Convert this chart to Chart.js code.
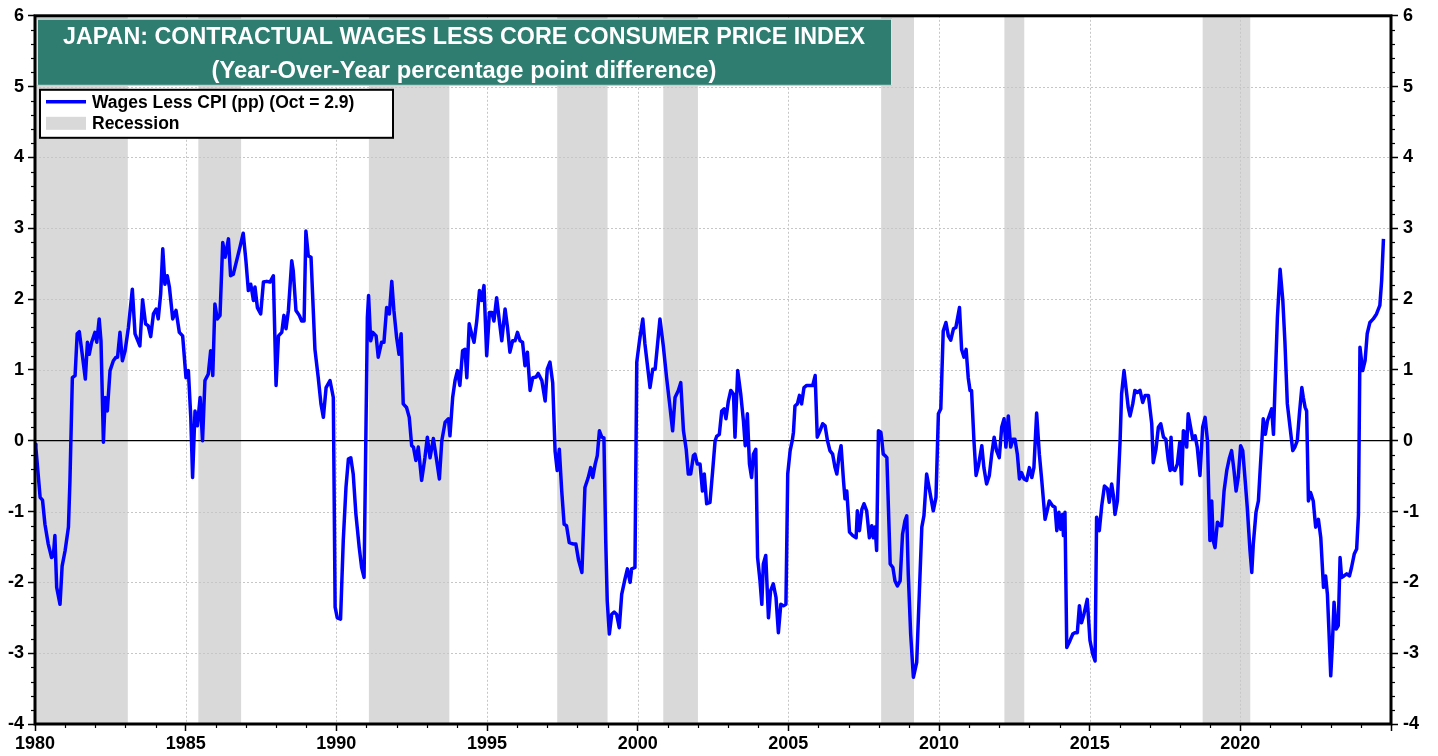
<!DOCTYPE html>
<html>
<head>
<meta charset="utf-8">
<script src="https://cdn.jsdelivr.net/npm/chart.js@4.4.0/dist/chart.umd.min.js"></script>
<style>
  html, body { margin: 0; padding: 0; background: #fff; }
  #wrap { width: 1438px; height: 756px; }
</style>
</head>
<body>
<div id="wrap"><canvas id="wagesChart" width="1438" height="756"></canvas></div>
<script>
// decimal years (month positions)
const dates = [
  1980.00, 1980.03, 1980.17, 1980.25, 1980.33, 1980.44, 1980.55, 1980.61, 1980.66, 1980.72, 1980.83, 1980.90,
  1981.00, 1981.11, 1981.16, 1981.24, 1981.33, 1981.40, 1981.47, 1981.58, 1981.67, 1981.74, 1981.80, 1981.88, 1981.99,
  1982.05, 1982.13, 1982.19, 1982.27, 1982.33, 1982.40, 1982.49, 1982.60, 1982.69, 1982.74, 1982.82, 1982.90, 1982.99,
  1983.10, 1983.23, 1983.32, 1983.48, 1983.57, 1983.67, 1983.76, 1983.84, 1983.93,
  1984.02, 1984.09, 1984.17, 1984.24, 1984.31, 1984.39, 1984.46, 1984.57, 1984.68, 1984.79, 1984.90,
  1985.01, 1985.09, 1985.17, 1985.23, 1985.31, 1985.39, 1985.48, 1985.56, 1985.64, 1985.75, 1985.83, 1985.90, 1985.97,
  1986.05, 1986.14, 1986.23, 1986.31, 1986.42, 1986.49, 1986.58, 1986.69, 1986.80, 1986.91,
  1987.00, 1987.08, 1987.16, 1987.25, 1987.30, 1987.38, 1987.49, 1987.58, 1987.69, 1987.80, 1987.91,
  1988.00, 1988.08, 1988.19, 1988.26, 1988.33, 1988.41, 1988.52, 1988.57, 1988.66, 1988.77, 1988.85, 1988.93, 1988.99,
  1989.07, 1989.16, 1989.29, 1989.40, 1989.49, 1989.57, 1989.66, 1989.79, 1989.90, 1989.96,
  1990.03, 1990.14, 1990.23, 1990.32, 1990.40, 1990.48, 1990.56, 1990.65, 1990.76, 1990.84, 1990.92,
  1991.03, 1991.07, 1991.14, 1991.21, 1991.32, 1991.39, 1991.50, 1991.58, 1991.67, 1991.76, 1991.84, 1991.91,
  1992.00, 1992.08, 1992.15, 1992.22, 1992.33, 1992.42, 1992.50, 1992.56, 1992.64, 1992.72, 1992.83, 1992.94,
  1993.02, 1993.11, 1993.22, 1993.33, 1993.42, 1993.50, 1993.61, 1993.72, 1993.77, 1993.86, 1993.94,
  1994.02, 1994.10, 1994.19, 1994.27, 1994.33, 1994.41, 1994.49, 1994.57, 1994.66, 1994.75, 1994.82, 1994.90, 1994.99,
  1995.08, 1995.16, 1995.23, 1995.32, 1995.41, 1995.49, 1995.60, 1995.68, 1995.76, 1995.85, 1995.93,
  1996.01, 1996.10, 1996.18, 1996.26, 1996.34, 1996.43, 1996.52, 1996.63, 1996.70, 1996.82, 1996.93,
  1997.00, 1997.09, 1997.18, 1997.26, 1997.33, 1997.40, 1997.48, 1997.56, 1997.64, 1997.73, 1997.87, 1997.95,
  1998.04, 1998.15, 1998.25, 1998.36, 1998.44, 1998.51, 1998.59, 1998.66, 1998.73, 1998.81, 1998.88, 1998.94, 1998.99,
  1999.06, 1999.14, 1999.22, 1999.30, 1999.39, 1999.47, 1999.58, 1999.66, 1999.75, 1999.80, 1999.91, 1999.97,
  2000.06, 2000.17, 2000.24, 2000.32, 2000.41, 2000.50, 2000.58, 2000.65, 2000.74, 2000.85, 2000.96,
  2001.05, 2001.16, 2001.24, 2001.35, 2001.43, 2001.52, 2001.61, 2001.68, 2001.76, 2001.85, 2001.90, 2001.98,
  2002.07, 2002.15, 2002.21, 2002.29, 2002.40, 2002.49, 2002.57, 2002.62, 2002.71, 2002.79, 2002.87, 2002.93,
  2003.01, 2003.09, 2003.18, 2003.23, 2003.32, 2003.42, 2003.51, 2003.57, 2003.64, 2003.71, 2003.78, 2003.84, 2003.92, 2003.98,
  2004.06, 2004.12, 2004.17, 2004.25, 2004.34, 2004.41, 2004.50, 2004.59, 2004.67, 2004.75, 2004.84, 2004.92, 2004.98,
  2005.06, 2005.13, 2005.17, 2005.22, 2005.30, 2005.37, 2005.44, 2005.52, 2005.61, 2005.72, 2005.81, 2005.89, 2005.96,
  2006.05, 2006.14, 2006.22, 2006.30, 2006.38, 2006.47, 2006.55, 2006.61, 2006.69, 2006.75, 2006.83, 2006.88, 2006.94,
  2007.03, 2007.14, 2007.25, 2007.29, 2007.36, 2007.44, 2007.51, 2007.60, 2007.69, 2007.77, 2007.82, 2007.88, 2007.93, 2007.99,
  2008.07, 2008.10, 2008.15, 2008.21, 2008.27, 2008.38, 2008.47, 2008.54, 2008.62, 2008.71, 2008.79, 2008.87, 2008.93, 2008.98,
  2009.06, 2009.15, 2009.26, 2009.35, 2009.43, 2009.50, 2009.59, 2009.70, 2009.81, 2009.90, 2009.98,
  2010.06, 2010.14, 2010.23, 2010.31, 2010.39, 2010.48, 2010.56, 2010.68, 2010.75, 2010.83, 2010.90, 2010.97,
  2011.03, 2011.08, 2011.16, 2011.23, 2011.31, 2011.42, 2011.49, 2011.58, 2011.67, 2011.75, 2011.83, 2011.91,
  2012.00, 2012.08, 2012.16, 2012.22, 2012.30, 2012.38, 2012.45, 2012.52, 2012.60, 2012.67, 2012.74, 2012.82, 2012.91,
  2013.00, 2013.08, 2013.15, 2013.24, 2013.33, 2013.41, 2013.52, 2013.60, 2013.66, 2013.77, 2013.85, 2013.91, 2013.98,
  2014.04, 2014.10, 2014.13, 2014.18, 2014.24, 2014.35, 2014.44, 2014.51, 2014.59, 2014.66, 2014.73, 2014.81, 2014.92,
  2015.01, 2015.10, 2015.18, 2015.23, 2015.32, 2015.40, 2015.49, 2015.59, 2015.65, 2015.73, 2015.79, 2015.84, 2015.92,
  2016.01, 2016.06, 2016.14, 2016.23, 2016.28, 2016.34, 2016.43, 2016.50, 2016.58, 2016.67, 2016.76, 2016.84, 2016.95,
  2017.06, 2017.11, 2017.20, 2017.28, 2017.36, 2017.45, 2017.53, 2017.61, 2017.67, 2017.70, 2017.75, 2017.83, 2017.91, 2017.99,
  2018.05, 2018.11, 2018.16, 2018.22, 2018.27, 2018.35, 2018.42, 2018.50, 2018.57, 2018.66, 2018.75, 2018.83, 2018.91, 2018.99,
  2019.05, 2019.10, 2019.16, 2019.24, 2019.33, 2019.38, 2019.46, 2019.55, 2019.64, 2019.71, 2019.79, 2019.86, 2019.93,
  2020.01, 2020.08, 2020.16, 2020.23, 2020.32, 2020.38, 2020.43, 2020.52, 2020.60, 2020.65, 2020.76, 2020.83, 2020.90, 2020.96,
  2021.04, 2021.10, 2021.15, 2021.23, 2021.32, 2021.41, 2021.48, 2021.56, 2021.65, 2021.74, 2021.81, 2021.89, 2021.96,
  2022.04, 2022.09, 2022.15, 2022.20, 2022.26, 2022.33, 2022.42, 2022.50, 2022.59, 2022.67, 2022.76, 2022.83, 2022.89, 2022.94,
  2023.00, 2023.05, 2023.11, 2023.18, 2023.25, 2023.31, 2023.36, 2023.44, 2023.53, 2023.62, 2023.69, 2023.78, 2023.86, 2023.92, 2023.97,
  2024.06, 2024.14, 2024.21, 2024.30, 2024.41, 2024.52, 2024.63, 2024.69, 2024.75
];

// wages less core CPI, percentage points
const wagesLessCpi = [
  -0.05, -0.10, -0.80, -0.84, -1.18, -1.46, -1.65, -1.62, -1.34, -2.07, -2.31, -1.77,
  -1.55, -1.22, -0.56, 0.89, 0.92, 1.51, 1.54, 1.18, 0.87, 1.39, 1.22, 1.39, 1.53,
  1.39, 1.72, 1.41, -0.02, 0.61, 0.42, 0.99, 1.13, 1.18, 1.18, 1.53, 1.13, 1.27,
  1.60, 2.14, 1.51, 1.34, 1.99, 1.65, 1.62, 1.47, 1.79,
  1.86, 1.72, 2.07, 2.71, 2.21, 2.33, 2.17, 1.72, 1.84, 1.53, 1.48,
  0.89, 0.99, 0.33, -0.52, 0.42, 0.21, 0.61, 0.00, 0.85, 0.94, 1.27, 0.92, 1.93,
  1.72, 1.77, 2.80, 2.59, 2.85, 2.33, 2.35, 2.54, 2.73, 2.93,
  2.54, 2.12, 2.21, 1.98, 2.17, 1.88, 1.79, 2.24, 2.25, 2.24, 2.33,
  0.78, 1.48, 1.53, 1.77, 1.58, 1.84, 2.54, 2.40, 1.84, 1.77, 1.69, 1.69, 2.96,
  2.61, 2.59, 1.29, 0.89, 0.52, 0.33, 0.75, 0.85, 0.61, -2.35,
  -2.50, -2.52, -1.41, -0.66, -0.26, -0.24, -0.47, -1.04, -1.51, -1.79, -1.93,
  1.74, 2.05, 1.41, 1.53, 1.48, 1.18, 1.39, 1.39, 1.88, 1.79, 2.25, 1.84,
  1.46, 1.22, 1.51, 0.52, 0.47, 0.33, -0.07, -0.09, -0.28, -0.09, -0.56, -0.24,
  0.05, -0.24, 0.03, -0.28, -0.54, 0.00, 0.26, 0.31, 0.07, 0.61, 0.85,
  0.99, 0.78, 1.27, 1.29, 0.89, 1.65, 1.51, 1.39, 1.69, 2.12, 1.98, 2.19, 1.20,
  1.81, 1.81, 1.69, 2.02, 1.69, 1.41, 1.86, 1.60, 1.25, 1.41, 1.41,
  1.53, 1.41, 1.39, 1.06, 1.25, 0.71, 0.89, 0.90, 0.95, 0.85, 0.56,
  1.01, 1.11, 0.82, -0.15, -0.42, -0.12, -0.71, -1.18, -1.20, -1.44, -1.46, -1.46,
  -1.69, -1.86, -0.66, -0.52, -0.38, -0.52, -0.33, -0.21, 0.14, 0.05, 0.04, -1.41, -2.26,
  -2.73, -2.45, -2.42, -2.45, -2.64, -2.17, -1.95, -1.81, -2.00, -1.81, -1.79, 1.11,
  1.41, 1.72, 1.37, 1.08, 0.75, 1.01, 1.01, 1.32, 1.72, 1.34, 0.89,
  0.56, 0.14, 0.61, 0.71, 0.82, 0.14, -0.12, -0.47, -0.47, -0.21, -0.19, -0.33,
  -0.33, -0.71, -0.47, -0.89, -0.87, -0.42, 0.00, 0.06, 0.09, 0.42, 0.45, 0.31,
  0.56, 0.71, 0.66, 0.05, 0.99, 0.66, 0.28, -0.07, 0.38, -0.33, -0.52, -0.19, -0.12, -1.65,
  -1.98, -2.31, -1.74, -1.62, -2.50, -2.12, -2.02, -2.21, -2.71, -2.31, -2.33, -2.31, -0.47,
  -0.14, 0.00, 0.12, 0.49, 0.52, 0.64, 0.52, 0.75, 0.78, 0.78, 0.78, 0.92, 0.05,
  0.14, 0.24, 0.21, 0.00, -0.14, -0.19, -0.38, -0.47, -0.19, -0.07, -0.56, -0.82, -0.71,
  -1.29, -1.34, -1.37, -0.99, -1.27, -0.97, -0.89, -0.99, -1.37, -1.20, -1.37, -1.22, -1.55, 0.14,
  0.12, 0.02, -0.19, -0.21, -0.24, -1.74, -1.79, -1.98, -2.05, -1.98, -1.32, -1.13, -1.06, -1.88,
  -2.73, -3.34, -3.13, -2.12, -1.22, -1.06, -0.47, -0.73, -0.99, -0.80, 0.38,
  0.45, 1.55, 1.67, 1.48, 1.42, 1.58, 1.60, 1.88, 1.29, 1.18, 1.29, 0.89,
  0.71, 0.71, 0.00, -0.49, -0.35, -0.07, -0.38, -0.61, -0.49, -0.19, 0.05, -0.14,
  -0.24, 0.19, 0.31, -0.09, 0.35, -0.09, 0.02, 0.02, -0.19, -0.54, -0.45, -0.54, -0.56,
  -0.38, -0.52, -0.38, 0.39, -0.19, -0.56, -1.11, -0.97, -0.85, -0.92, -0.94, -1.27, -1.01,
  -1.25, -1.04, -1.34, -1.01, -2.92, -2.82, -2.73, -2.71, -2.71, -2.33, -2.57, -2.45, -2.24,
  -2.82, -3.01, -3.11, -1.08, -1.27, -0.92, -0.64, -0.68, -0.87, -0.61, -0.78, -1.04, -0.85,
  0.00, 0.66, 0.99, 0.66, 0.47, 0.35, 0.52, 0.71, 0.68, 0.71, 0.54, 0.64, 0.64,
  0.24, -0.31, -0.12, 0.19, 0.24, 0.05, 0.02, -0.28, -0.42, 0.05, -0.40, -0.42, -0.33, -0.02,
  -0.61, 0.14, 0.12, -0.09, 0.38, 0.19, 0.02, 0.07, -0.09, -0.49, 0.19, 0.33, 0.00, -1.41,
  -0.85, -1.41, -1.51, -1.15, -1.20, -1.20, -0.71, -0.42, -0.24, -0.14, -0.42, -0.71, -0.52,
  -0.07, -0.14, -0.56, -0.94, -1.55, -1.86, -1.46, -1.01, -0.85, -0.47, 0.31, 0.09, 0.28, 0.35,
  0.45, 0.09, 0.75, 1.74, 2.42, 1.98, 1.39, 0.52, 0.19, -0.14, -0.09, 0.00, 0.38,
  0.75, 0.61, 0.47, 0.42, -0.85, -0.73, -0.85, -1.22, -1.11, -1.37, -2.07, -1.91, -2.17, -2.68,
  -3.32, -2.92, -2.28, -2.66, -2.61, -1.65, -1.93, -1.91, -1.88, -1.91, -1.79, -1.60, -1.53, -1.04, 1.32,
  0.99, 1.13, 1.51, 1.67, 1.72, 1.79, 1.91, 2.26, 2.85
];

// shaded recession periods (decimal years)
const recessionStart = [1980.00, 1985.42, 1991.08, 1997.33, 2000.85, 2008.08, 2012.17, 2018.75];
const recessionEnd   = [1983.08, 1986.84, 1993.75, 1999.00, 2002.00, 2009.17, 2012.83, 2020.33];

const titleLines = [
  "JAPAN: CONTRACTUAL WAGES LESS CORE CONSUMER PRICE INDEX",
  "(Year-Over-Year percentage point difference)"
];
const legendLabels = ["Wages Less CPI (pp) (Oct = 2.9)", "Recession"];

const FONT = "'Liberation Sans', Arial, sans-serif";
const BLUE = "#0000ff";
const BAND = "#d9d9d9";
const TEAL = "#2e7d70";

const points = dates.map((d, i) => ({ x: d, y: wagesLessCpi[i] }));

function fitText(ctx, text, cx, baseline, width) {
  const w = ctx.measureText(text).width;
  ctx.save();
  ctx.translate(cx, baseline);
  ctx.scale(width / w, 1);
  ctx.textAlign = "center";
  ctx.fillText(text, 0, 0);
  ctx.restore();
}

const chartDecor = {
  id: "chartDecor",
  beforeDatasetsDraw(chart) {
    const { ctx, chartArea: a, scales: { x, y } } = chart;
    ctx.save();
    // recession shading
    ctx.fillStyle = BAND;
    recessionStart.forEach((s, i) => {
      const x0 = x.getPixelForValue(s);
      const x1 = x.getPixelForValue(recessionEnd[i]);
      ctx.fillRect(x0, a.top, x1 - x0, a.bottom - a.top);
    });
    // dotted grid
    ctx.strokeStyle = "#c6c6c6";
    ctx.lineWidth = 1;
    ctx.setLineDash([2, 2]);
    for (let v = -3; v <= 5; v++) {
      if (v === 0) continue;
      const py = Math.round(y.getPixelForValue(v)) + 0.5;
      ctx.beginPath(); ctx.moveTo(a.left, py); ctx.lineTo(a.right, py); ctx.stroke();
    }
    for (let yr = 1985; yr < 2025; yr += 5) {
      const px = Math.round(x.getPixelForValue(yr)) + 0.5;
      ctx.beginPath(); ctx.moveTo(px, a.top); ctx.lineTo(px, a.bottom); ctx.stroke();
    }
    ctx.setLineDash([]);
    // zero line
    const zy = y.getPixelForValue(0);
    ctx.strokeStyle = "#000";
    ctx.lineWidth = 1.2;
    ctx.beginPath(); ctx.moveTo(a.left, zy); ctx.lineTo(a.right, zy); ctx.stroke();
    ctx.restore();
  },
  afterDatasetsDraw(chart) {
    const { ctx, chartArea: a, scales: { x, y } } = chart;
    ctx.save();
    ctx.strokeStyle = "#000";
    ctx.lineWidth = 1.2;
    // minor ticks
    for (let k = -20; k <= 30; k++) {
      if (k % 5 === 0) continue;
      const py = Math.round(y.getPixelForValue(k / 5)) + 0.5;
      ctx.beginPath(); ctx.moveTo(a.left - 4, py); ctx.lineTo(a.left, py); ctx.stroke();
      ctx.beginPath(); ctx.moveTo(a.right, py); ctx.lineTo(a.right + 4, py); ctx.stroke();
    }
    for (let yr = 1981; yr < 2025; yr++) {
      if (yr % 5 === 0) continue;
      const px = Math.round(x.getPixelForValue(yr)) + 0.5;
      ctx.beginPath(); ctx.moveTo(px, a.bottom); ctx.lineTo(px, a.bottom + 4); ctx.stroke();
    }
    // frame
    ctx.lineWidth = 3;
    ctx.strokeRect(a.left, a.top, a.right - a.left, a.bottom - a.top);
    ctx.restore();
  },
  afterDraw(chart) {
    const { ctx, chartArea: a } = chart;
    ctx.save();
    // title box
    const tx = a.left + 2, ty = a.top + 3, tw = 855, th = 67;
    ctx.fillStyle = TEAL;
    ctx.fillRect(tx, ty, tw, th);
    ctx.strokeStyle = "#d8e4e1";
    ctx.lineWidth = 1;
    ctx.strokeRect(tx + 0.5, ty + 0.5, tw - 1, th - 1);
    ctx.fillStyle = "#ffffff";
    ctx.font = "bold 23px " + FONT;
    fitText(ctx, titleLines[0], tx + 427, ty + 25, 802);
    fitText(ctx, titleLines[1], tx + 427, ty + 59, 505);

    // legend box
    const lx = a.left + 5, ly = a.top + 74, lw = 353, lh = 48;
    ctx.fillStyle = "#ffffff";
    ctx.fillRect(lx, ly, lw, lh);
    ctx.strokeStyle = "#000";
    ctx.lineWidth = 2;
    ctx.strokeRect(lx, ly, lw, lh);
    ctx.strokeStyle = BLUE;
    ctx.lineWidth = 3.5;
    ctx.beginPath(); ctx.moveTo(lx + 6, ly + 12); ctx.lineTo(lx + 46, ly + 12); ctx.stroke();
    ctx.fillStyle = BAND;
    ctx.fillRect(lx + 6, ly + 27, 40, 13);
    ctx.fillStyle = "#000";
    ctx.font = "bold 17.5px " + FONT;
    ctx.textAlign = "left";
    ctx.fillText(legendLabels[0], lx + 52, ly + 18);
    ctx.fillText(legendLabels[1], lx + 52, ly + 39);
    ctx.restore();
  }
};

const tickFont = { family: FONT, size: 18, weight: "bold" };

new Chart(document.getElementById("wagesChart"), {
  type: "line",
  data: {
    datasets: [{
      label: legendLabels[0],
      data: points,
      yAxisID: "y",
      borderColor: BLUE,
      borderWidth: 3.5,
      pointRadius: 0,
      tension: 0,
      fill: false,
      borderJoinStyle: "round"
    }]
  },
  options: {
    responsive: false,
    animation: false,
    layout: { padding: { top: 15, left: 0, right: 0, bottom: 0 } },
    plugins: {
      legend: { display: false },
      tooltip: { enabled: false }
    },
    scales: {
      x: {
        type: "linear",
        min: 1980,
        max: 2025,
        ticks: {
          stepSize: 5,
          autoSkip: false,
          maxRotation: 0,
          color: "#000",
          font: tickFont,
          padding: 2,
          callback: (v) => (v < 2025 ? String(v) : "")
        },
        grid: { drawOnChartArea: false, tickLength: 7, tickColor: "#000", tickWidth: 1.5 },
        border: { display: false },
        afterFit: (s) => { s.height = 32; }
      },
      y: {
        position: "left",
        min: -4,
        max: 6,
        ticks: { stepSize: 1, color: "#000", font: tickFont, padding: 4, callback: (v) => String(v) },
        grid: { drawOnChartArea: false, tickLength: 7, tickColor: "#000", tickWidth: 1.5 },
        border: { display: false },
        afterFit: (s) => { s.width = 35; }
      },
      y2: {
        position: "right",
        min: -4,
        max: 6,
        ticks: { stepSize: 1, color: "#000", font: tickFont, padding: 5, callback: (v) => String(v) },
        grid: { drawOnChartArea: false, tickLength: 7, tickColor: "#000", tickWidth: 1.5 },
        border: { display: false },
        afterFit: (s) => { s.width = 47; }
      }
    }
  },
  plugins: [chartDecor]
});
</script>
</body>
</html>
